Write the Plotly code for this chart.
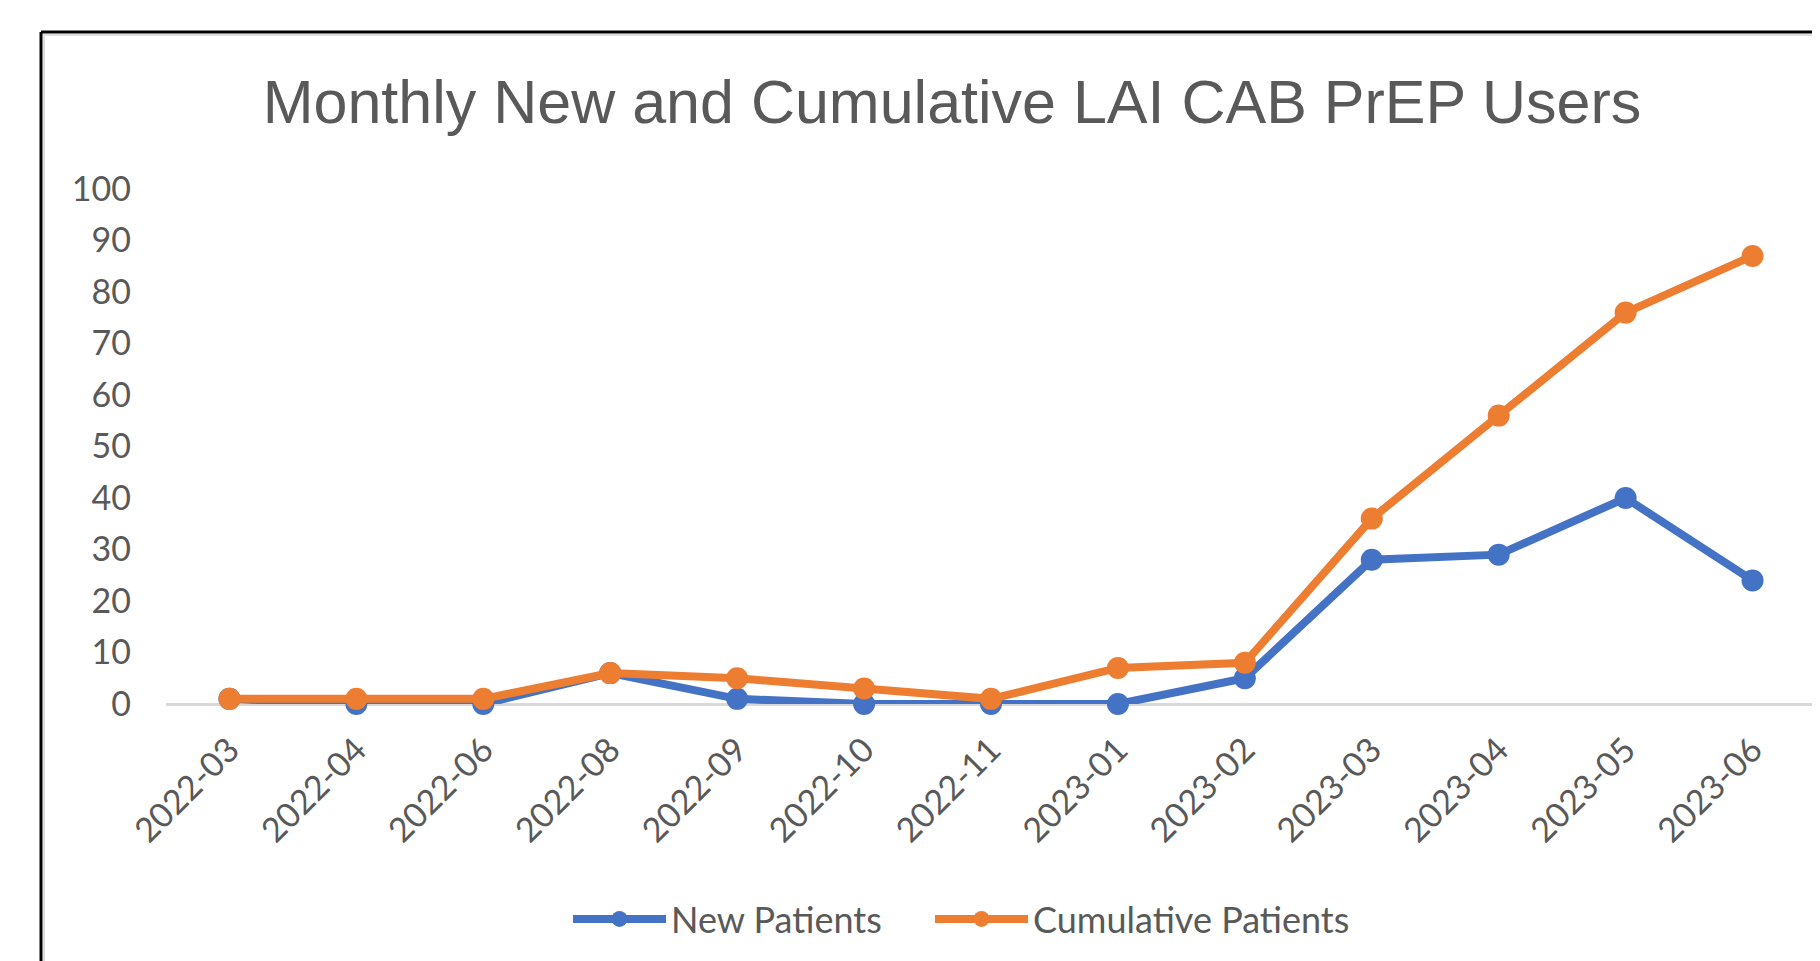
import plotly.graph_objects as go

months = ["2022-03", "2022-04", "2022-06", "2022-08", "2022-09", "2022-10", "2022-11",
          "2023-01", "2023-02", "2023-03", "2023-04", "2023-05", "2023-06"]
new_patients = [1, 0, 0, 6, 1, 0, 0, 0, 5, 28, 29, 40, 24]
cumulative_patients = [1, 1, 1, 6, 5, 3, 1, 7, 8, 36, 56, 76, 87]
y_ticks = [0, 10, 20, 30, 40, 50, 60, 70, 80, 90, 100]
title_text = "Monthly New and Cumulative LAI CAB PrEP Users"

W, H = 1820, 961
L, R, T, B = 158, 12, 181, 265
PW, PH = W - L - R, H - T - B

def px_x(px):
    return (px - L) / PW

def px_y(py):
    return (H - B - py) / PH

BLUE = "#4472C4"
ORANGE = "#ED7D31"
TXT = "#595959"
TICKFONT = dict(family="Lato, 'Open Sans', sans-serif", size=34, color=TXT)
LEGFONT = dict(family="Lato, 'Open Sans', sans-serif", size=36, color=TXT)

fig = go.Figure()
fig.add_trace(go.Scatter(
    x=months, y=new_patients, name="New Patients", mode="lines+markers",
    line=dict(color=BLUE, width=8), marker=dict(color=BLUE, size=22),
    cliponaxis=False, legend="legend"))
fig.add_trace(go.Scatter(
    x=months, y=cumulative_patients, name="Cumulative Patients", mode="lines+markers",
    line=dict(color=ORANGE, width=8), marker=dict(color=ORANGE, size=22),
    cliponaxis=False, legend="legend2"))

leg_common = dict(orientation="h", xanchor="left", yanchor="middle", font=LEGFONT,
                  itemwidth=93, bgcolor="rgba(0,0,0,0)", y=px_y(911))

fig.update_layout(
    width=W, height=H,
    margin=dict(l=L, r=R, t=T, b=B, autoexpand=False),
    paper_bgcolor="white", plot_bgcolor="white",
    title=dict(text=title_text, x=944 / W, xref="container", xanchor="center",
               y=1 - 94 / H, yref="container", yanchor="middle",
               font=dict(family="'Liberation Sans', Arial, sans-serif", size=61, color=TXT)),
    xaxis=dict(type="category", range=[-0.5, 12.5], showgrid=False, showline=False,
               zeroline=False, tickangle=-45, tickfont=TICKFONT, ticks="",
               ticklabelstandoff=18),
    yaxis=dict(range=[0, 100], tickvals=y_ticks, showgrid=False, showline=False,
               zeroline=True, zerolinecolor="#D9D9D9", zerolinewidth=3,
               tickfont=TICKFONT, ticks="", ticklabelstandoff=34),
    showlegend=True,
    legend=dict(x=px_x(560), **leg_common),
    legend2=dict(x=px_x(922), **leg_common),
    shapes=[
        dict(type="line", xref="paper", yref="paper", x0=px_x(33), x1=px_x(33),
             y0=px_y(24), y1=px_y(H + 10), line=dict(color="black", width=3)),
        dict(type="line", xref="paper", yref="paper", x0=px_x(33), x1=px_x(W + 10),
             y0=px_y(24), y1=px_y(24), line=dict(color="black", width=3)),
        dict(type="line", xref="paper", yref="paper", x0=px_x(36), x1=px_x(36),
             y0=px_y(26), y1=px_y(H + 10), line=dict(color="#E0E0E0", width=2)),
        dict(type="line", xref="paper", yref="paper", x0=px_x(35), x1=px_x(W + 10),
             y0=px_y(27), y1=px_y(27), line=dict(color="#E0E0E0", width=2)),
    ],
)

fig.write_html("out.html")
